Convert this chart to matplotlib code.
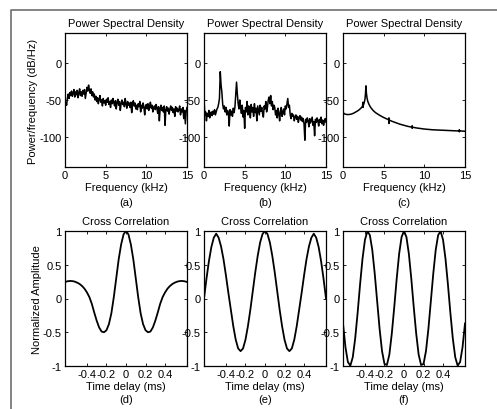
import matplotlib
matplotlib.use("Agg")
import matplotlib.pyplot as plt
from matplotlib.lines import Line2D
import numpy as np

plt.rcParams['font.family'] = ['Liberation Sans', 'DejaVu Sans']
plt.rcParams['font.size'] = 8
plt.rcParams['axes.unicode_minus'] = False

# ---- data ----
# PSD (a) and (b): one value every 0.1 kHz from 0 to 15 kHz
freq_ab = np.arange(151) / 10.0

psd_a = [
    -60, -54, -57, -47, -42, -48, -40, -44, -38, -45,
    -41, -36, -46, -39, -43, -37, -47, -40, -35, -44,
    -39, -45, -37, -42, -36, -48, -40, -33, -38, -30,
    -37, -41, -35, -44, -39, -46, -42, -50, -45, -52,
    -47, -55, -49, -44, -53, -50, -58, -48, -54, -51,
    -57, -49, -53, -47, -56, -52, -60, -50, -55, -48,
    -54, -58, -51, -62, -53, -49, -57, -52, -64, -55,
    -50, -56, -53, -59, -48, -55, -61, -52, -57, -54,
    -60, -53, -67, -56, -51, -58, -54, -62, -57, -63,
    -55, -59, -52, -66, -57, -61, -54, -60, -70, -58,
    -56, -62, -55, -64, -59, -53, -61, -57, -66, -60,
    -58, -63, -56, -61, -68, -59, -78, -62, -57, -64,
    -60, -66, -58, -84, -63, -59, -65, -61, -69, -62,
    -58, -64, -60, -67, -62, -72, -59, -65, -61, -66,
    -63, -58, -70, -62, -66, -60, -75, -64, -82, -65,
    -60,
]

psd_b = [
    -47, -70, -66, -78, -68, -72, -64, -74, -69, -66,
    -71, -65, -69, -63, -70, -66, -62, -60, -55, -48,
    -12, -30, -40, -56, -62, -58, -66, -60, -70, -64,
    -68, -85, -63, -70, -65, -72, -61, -67, -60, -44,
    -26, -42, -55, -62, -50, -60, -68, -57, -73, -64,
    -88, -60, -66, -52, -70, -58, -63, -74, -56, -66,
    -60, -72, -55, -67, -61, -78, -58, -64, -70, -57,
    -65, -60, -68, -73, -58, -62, -52, -66, -60, -50,
    -46, -55, -44, -58, -52, -63, -57, -60, -70, -64,
    -74, -61, -68, -78, -65, -60, -72, -66, -62, -70,
    -58, -62, -55, -48, -60, -57, -70, -75, -68, -72,
    -70, -78, -73, -70, -76, -72, -80, -74, -71, -77,
    -73, -79, -75, -82, -104, -76, -80, -74, -78, -86,
    -75, -81, -77, -73, -84, -79, -98, -76, -80, -74,
    -78, -85, -76, -80, -73, -82, -77, -84, -79, -75,
    -80,
]

# PSD (c): smooth resonance, uneven sampling
freq_c = [0, 0.25, 0.5, 0.75, 1.0, 1.25, 1.5, 1.75, 2.0, 2.2, 2.4, 2.45, 2.45,
          2.5, 2.6, 2.7, 2.76, 2.82, 2.88, 2.95, 3.05, 3.2, 3.4, 3.7, 4.0,
          4.5, 5.0, 5.6, 5.65, 5.65, 5.7, 6.0, 6.5, 7.0, 7.5, 8.0, 8.5, 8.5,
          8.5, 8.55, 9.0, 10.0, 11.0, 12.0, 13.0, 14.0, 14.3, 14.3, 14.3,
          14.35, 15.0]
psd_c = [-67, -69, -69.5, -69.5, -69, -68, -66.5, -65, -63, -61, -58.5, -53, -60,
         -57, -54, -49, -42, -31, -41, -47, -52, -56, -60, -64, -67,
         -70.5, -73.5, -76.5, -74, -81.5, -77, -78.5, -80.5, -82.5, -84, -85.5, -86.5, -85,
         -88, -86.5, -87.5, -89, -90, -90.5, -91, -91.5, -91.5, -90.3, -92.7,
         -91.5, -92]

# Cross correlations: one value every 0.025 ms from -0.625 to 0.625 ms
lag = np.arange(-25, 26) * 0.025

xc_half_d = [1.0, 0.95, 0.80, 0.58, 0.30, 0.02, -0.22, -0.38, -0.47, -0.50,
             -0.49, -0.43, -0.33, -0.21, -0.08, 0.02, 0.09, 0.145, 0.185, 0.215,
             0.235, 0.25, 0.258, 0.26, 0.255, 0.245]
xc_half_e = [1.0, 0.956, 0.83, 0.63, 0.385, 0.11, -0.165, -0.41, -0.61, -0.74,
             -0.78, -0.74, -0.61, -0.41, -0.165, 0.08, 0.34, 0.58, 0.77, 0.90,
             0.96, 0.90, 0.76, 0.55, 0.29, 0.0]
xc_half_f = [1.0, 0.91, 0.66, 0.29, -0.13, -0.52, -0.83, -0.985, -0.97, -0.78,
             -0.45, -0.04, 0.37, 0.72, 0.94, 0.996, 0.87, 0.59, 0.21, -0.21,
             -0.59, -0.87, -0.996, -0.94, -0.72, -0.37]

xc_d = xc_half_d[:0:-1] + xc_half_d
xc_e = xc_half_e[:0:-1] + xc_half_e
xc_f = xc_half_f[:0:-1] + xc_half_f

top_labels = ['(a)', '(b)', '(c)']
bottom_labels = ['(d)', '(e)', '(f)']

# ---- layout (pixel based) ----
W, H = 497, 410
fig = plt.figure(figsize=(W / 100, H / 100), dpi=100)

lefts = [65, 204, 343]
aw = 122


def px_axes(x0, y_top, y_bot):
    return fig.add_axes([x0 / W, 1 - y_bot / H, aw / W, (y_bot - y_top) / H])


def style(ax):
    ax.tick_params(direction='in', length=2.5, width=0.6, top=True, right=True,
                   labelsize=8, pad=2.5)
    for s in ax.spines.values():
        s.set_linewidth(0.9)


top_axes = [px_axes(x, 34, 168) for x in lefts]
bot_axes = [px_axes(x, 232, 367) for x in lefts]

for ax, (xs, ys) in zip(top_axes, [(freq_ab, psd_a), (freq_ab, psd_b), (freq_c, psd_c)]):
    ax.plot(xs, ys, color='black', lw=1.1)
    ax.set_xlim(0, 15)
    ax.set_ylim(-140, 40)
    ax.set_xticks([0, 5, 10, 15])
    ax.set_xticklabels(['0', '5', '10', '15'])
    ax.set_yticks([-100, -50, 0])
    ax.set_yticklabels(['-100', '-50', '0'])
    ax.set_title('Power Spectral Density', fontsize=8, pad=5)
    ax.set_xlabel('Frequency (kHz)', fontsize=8, labelpad=1)
    style(ax)

for ax, ys in zip(bot_axes, [xc_d, xc_e, xc_f]):
    ax.plot(lag, ys, color='black', lw=1.3)
    ax.set_xlim(-0.625, 0.625)
    ax.set_ylim(-1, 1)
    ax.set_xticks([-0.4, -0.2, 0, 0.2, 0.4])
    ax.set_xticklabels(['-0.4', '-0.2', '0', '0.2', '0.4'])
    ax.set_yticks([-1, -0.5, 0, 0.5, 1])
    ax.set_yticklabels(['-1', '-0.5', '0', '0.5', '1'])
    ax.set_title('Cross Correlation', fontsize=8, pad=5)
    ax.set_xlabel('Time delay (ms)', fontsize=8, labelpad=1)
    style(ax)

top_axes[0].set_ylabel('Power/frequency (dB/Hz)', fontsize=8)
top_axes[0].yaxis.set_label_coords(-0.22, 0.5)
bot_axes[0].set_ylabel('Normalized Amplitude', fontsize=8)
bot_axes[0].yaxis.set_label_coords(-0.19, 0.5)

for x, lab in zip(lefts, top_labels):
    fig.text((x + aw / 2) / W, 1 - 203 / H, lab, ha='center', va='center', fontsize=8)
for x, lab in zip(lefts, bottom_labels):
    fig.text((x + aw / 2) / W, 1 - 400 / H, lab, ha='center', va='center', fontsize=8)

# gray outer frame (top and left edges visible)
fx, fy = 10.5 / W, 1 - 10.5 / H
fig.add_artist(Line2D([fx, fx, 1.0], [0.0, fy, fy], transform=fig.transFigure,
                      color='#6e6e6e', lw=1.2))

fig.savefig('out.png', dpi=100)
